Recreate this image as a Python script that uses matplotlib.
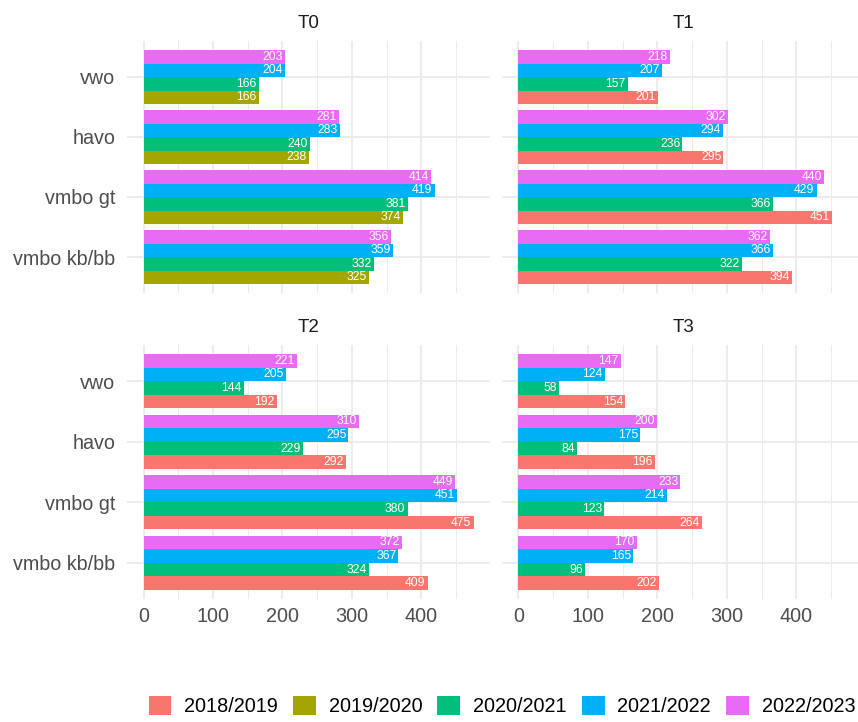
import matplotlib
matplotlib.use("Agg")
import matplotlib.pyplot as plt
from matplotlib.patches import Patch
import numpy as np

plt.rcParams['font.family'] = ['Liberation Sans', 'DejaVu Sans']

categories = ["vwo", "havo", "vmbo gt", "vmbo kb/bb"]
series_names = ["2018/2019", "2019/2020", "2020/2021", "2021/2022", "2022/2023"]
colors = ["#F8766D", "#A3A500", "#00BF7D", "#00B0F6", "#E76BF3"]
panels = ["T0", "T1", "T2", "T3"]

# values per panel: dict series -> values for categories (vwo, havo, vmbo gt, vmbo kb/bb)
T0 = {"2019/2020": [166, 238, 374, 325],
      "2020/2021": [166, 240, 381, 332],
      "2021/2022": [204, 283, 419, 359],
      "2022/2023": [203, 281, 414, 356]}
T1 = {"2018/2019": [201, 295, 451, 394],
      "2020/2021": [157, 236, 366, 322],
      "2021/2022": [207, 294, 429, 366],
      "2022/2023": [218, 302, 440, 362]}
T2 = {"2018/2019": [192, 292, 475, 409],
      "2020/2021": [144, 229, 380, 324],
      "2021/2022": [205, 295, 451, 367],
      "2022/2023": [221, 310, 449, 372]}
T3 = {"2018/2019": [154, 196, 264, 202],
      "2020/2021": [58, 84, 123, 96],
      "2021/2022": [124, 175, 214, 165],
      "2022/2023": [147, 200, 233, 170]}
panel_data = [T0, T1, T2, T3]

W, H = 858, 722
fig = plt.figure(figsize=(W / 100, H / 100), dpi=100)

xmax_data = 475
xlim = (-0.05 * xmax_data, xmax_data * 1.05)

# panel boxes in pixels: (left, top, right, bottom)
boxes = [(127, 41, 490, 293), (502, 41, 865, 293),
         (127, 345, 490, 599), (502, 345, 865, 599)]

grid_col = "#EBEBEB"
for i, (name, data, box) in enumerate(zip(panels, panel_data, boxes)):
    l, t, r, b = box
    ax = fig.add_axes([l / W, 1 - b / H, (r - l) / W, (b - t) / H])
    ax.set_xlim(*xlim)
    ax.set_ylim(4.6, 0.4)
    for s in ax.spines.values():
        s.set_visible(False)
    # grid
    for xv in [0, 100, 200, 300, 400]:
        ax.axvline(xv, color=grid_col, lw=1.3, zorder=0)
    for xv in [50, 150, 250, 350, 450]:
        ax.axvline(xv, color=grid_col, lw=0.7, zorder=0)
    for yv in range(1, 5):
        ax.axhline(yv, color=grid_col, lw=1.3, zorder=0)

    keys = [s for s in series_names if s in data]
    n = len(keys)
    bw = 0.9 / n
    ypos = np.arange(1, len(categories) + 1)
    for j, key in enumerate(keys):
        col = colors[series_names.index(key)]
        # first series at bottom of group
        off = 0.45 - bw * (j + 0.5)
        yy = ypos + off
        vals = data[key]
        ax.barh(yy, vals, height=bw, color=col, zorder=2)
        for yv, v in zip(yy, vals):
            ax.annotate(str(v), (v, yv), xytext=(-1.5, 0), textcoords="offset points",
                        ha="right", va="center", color="white", fontsize=8.7, zorder=3)

    ax.set_title(name, fontsize=13.5, color="#1A1A1A", pad=9)
    ax.tick_params(length=0, labelsize=14.2, labelcolor="#4D4D4D")
    ax.tick_params(axis="y", pad=8.5)
    ax.tick_params(axis="x", pad=6)
    ax.set_xticks([0, 100, 200, 300, 400])
    ax.set_yticks(ypos)
    if i in (0, 2):
        ax.set_yticklabels(categories)
    else:
        ax.set_yticklabels([])
    if i in (2, 3):
        ax.set_xticklabels(["0", "100", "200", "300", "400"])
    else:
        ax.set_xticklabels([])

handles = [Patch(facecolor=c, edgecolor="none") for c in colors]
fig.legend(handles, series_names, loc="center", bbox_to_anchor=(502 / W, 1 - 706 / H),
           ncol=5, frameon=False, fontsize=14.3, handlelength=1.15, handleheight=1.15,
           handletextpad=0.65, columnspacing=0.75, borderaxespad=0, borderpad=0)

fig.savefig("out.png", dpi=100)
